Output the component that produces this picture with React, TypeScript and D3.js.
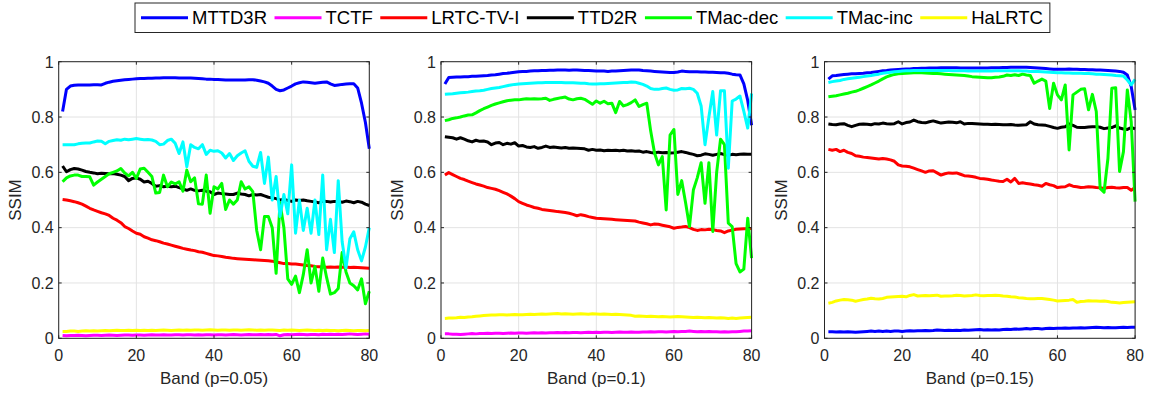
import React from 'react';
import * as d3 from 'd3';

// ---------- data ----------
const methodNames = ['MTTD3R', 'TCTF', 'LRTC-TV-I', 'TTD2R', 'TMac-dec', 'TMac-inc', 'HaLRTC'];
const methodColors = ['#0000ff', '#ff00ff', '#ff0000', '#000000', '#00ff00', '#00ffff', '#ffff00'];
const panelLabels = ['Band (p=0.05)', 'Band (p=0.1)', 'Band (p=0.15)'];
const xTicks = [0, 20, 40, 60, 80];
const yTicks = [0, 0.2, 0.4, 0.6, 0.8, 1];
const bands = d3.range(1, 81);

// p = 0.05
const MTTD3R_p05 = [.82,.90,.912,.915,.916,.916,.916,.916,.917,.917,
.916,.922,.926,.929,.931,.933,.935,.936,.937,.938,
.939,.939,.94,.94,.941,.941,.942,.942,.942,.942,
.941,.941,.941,.941,.94,.939,.938,.937,.937,.936,
.936,.935,.934,.934,.934,.934,.934,.934,.935,.935,
.933,.93,.927,.922,.912,.90,.895,.898,.905,.912,
.92,.924,.927,.926,.924,.922,.924,.926,.927,.92,
.914,.916,.918,.919,.92,.92,.905,.85,.78,.685];
const TCTF_p05 = [.010,.009,.010,.010,.011,.010,.009,.010,.011,.011,
.010,.011,.012,.011,.010,.011,.012,.012,.011,.012,
.012,.011,.012,.013,.012,.012,.013,.012,.012,.013,
.013,.012,.013,.013,.012,.013,.012,.013,.013,.012,
.013,.013,.012,.013,.014,.013,.012,.013,.014,.013,
.013,.014,.013,.014,.013,.014,.009,.013,.014,.013,
.014,.015,.014,.013,.014,.014,.013,.015,.014,.015,
.014,.015,.014,.015,.016,.015,.014,.015,.016,.015];
const LRTC_p05 = [.502,.50,.497,.494,.49,.485,.478,.47,.464,.459,
.454,.45,.444,.434,.427,.418,.404,.397,.388,.38,
.376,.367,.362,.356,.353,.349,.344,.341,.337,.333,
.329,.325,.322,.319,.317,.313,.311,.307,.303,.299,
.298,.296,.293,.291,.289,.288,.287,.286,.285,.284,
.283,.282,.281,.28,.279,.276,.273,.27,.27,.269,
.269,.267,.265,.263,.262,.26,.259,.258,.257,.258,
.257,.258,.257,.258,.256,.257,.256,.255,.254,.253];
const TTD2R_p05 = [.623,.602,.61,.614,.612,.608,.603,.60,.598,.595,
.597,.596,.595,.596,.593,.59,.585,.57,.578,.58,
.575,.565,.568,.56,.55,.552,.548,.55,.548,.55,
.545,.54,.535,.54,.535,.533,.535,.532,.53,.52,
.525,.523,.522,.52,.52,.525,.522,.52,.515,.52,
.518,.52,.515,.51,.508,.505,.50,.502,.498,.495,
.50,.498,.50,.497,.495,.493,.49,.496,.495,.493,
.495,.495,.492,.496,.494,.49,.495,.492,.485,.48];
const TMacDec_p05 = [.566,.58,.587,.59,.59,.585,.585,.584,.554,.565,
.575,.585,.595,.60,.605,.614,.598,.587,.60,.578,
.612,.615,.60,.585,.525,.527,.59,.548,.565,.558,
.566,.532,.608,.566,.58,.486,.485,.59,.452,.548,
.54,.56,.466,.50,.485,.50,.566,.54,.548,.53,
.39,.32,.44,.44,.40,.235,.49,.40,.215,.195,
.225,.165,.23,.32,.20,.26,.17,.29,.22,.16,
.165,.18,.31,.24,.20,.19,.175,.215,.125,.17];
const TMacInc_p05 = [.70,.70,.70,.70,.703,.705,.706,.706,.71,.713,
.712,.703,.712,.715,.718,.716,.72,.718,.72,.722,
.72,.718,.719,.717,.712,.70,.702,.715,.72,.705,
.668,.71,.62,.70,.69,.685,.70,.665,.68,.676,
.678,.67,.652,.668,.643,.66,.67,.678,.64,.622,
.618,.672,.56,.655,.50,.585,.44,.52,.45,.627,
.38,.50,.39,.47,.38,.50,.375,.59,.32,.43,
.31,.57,.35,.255,.36,.385,.32,.28,.33,.40];
const HaLRTC_p05 = [.025,.025,.026,.026,.025,.026,.027,.026,.027,.026,
.027,.028,.027,.028,.029,.028,.028,.029,.028,.029,
.028,.029,.028,.029,.028,.029,.03,.029,.028,.029,
.03,.029,.03,.029,.03,.03,.029,.03,.031,.03,
.029,.03,.03,.029,.03,.03,.029,.03,.031,.03,
.029,.03,.029,.03,.03,.029,.028,.03,.029,.03,
.029,.028,.029,.03,.029,.028,.029,.028,.029,.028,
.028,.027,.028,.029,.028,.027,.028,.028,.027,.028];

// p = 0.1
const MTTD3R_p10 = [.919,.943,.944,.945,.945,.946,.946,.947,.947,.948,
.949,.95,.952,.953,.955,.957,.958,.96,.962,.964,
.965,.965,.966,.967,.967,.968,.968,.969,.969,.97,
.97,.97,.969,.97,.97,.969,.968,.968,.967,.966,
.966,.966,.965,.966,.966,.967,.968,.969,.97,.97,
.97,.968,.967,.966,.965,.964,.963,.962,.961,.961,
.963,.966,.965,.964,.964,.964,.963,.963,.962,.962,
.961,.96,.96,.958,.955,.953,.952,.92,.86,.77];
const TCTF_p10 = [.016,.016,.015,.015,.014,.015,.016,.017,.016,.017,
.017,.018,.017,.018,.018,.017,.018,.019,.018,.019,
.019,.018,.019,.02,.019,.02,.019,.02,.02,.021,
.02,.021,.02,.021,.021,.02,.021,.022,.021,.022,
.021,.022,.022,.021,.022,.023,.022,.022,.023,.022,
.022,.023,.023,.024,.023,.024,.024,.023,.024,.025,
.024,.025,.025,.026,.025,.024,.025,.024,.025,.024,
.024,.023,.024,.023,.024,.024,.025,.026,.026,.027];
const LRTC_p10 = [.59,.599,.592,.585,.578,.574,.568,.563,.558,.554,
.55,.545,.542,.539,.534,.528,.522,.514,.505,.494,
.488,.482,.478,.473,.47,.466,.464,.462,.46,.458,
.457,.455,.452,.448,.443,.447,.444,.44,.437,.434,
.433,.432,.431,.43,.429,.428,.427,.426,.425,.424,
.42,.417,.414,.41,.413,.412,.409,.406,.403,.398,
.401,.402,.404,.4,.394,.39,.393,.392,.394,.393,
.39,.388,.382,.388,.391,.394,.395,.396,.396,.397];
const TTD2R_p10 = [.729,.727,.725,.72,.725,.72,.714,.71,.716,.712,
.713,.71,.70,.706,.708,.70,.705,.702,.707,.695,
.697,.692,.69,.693,.687,.69,.695,.69,.692,.69,
.688,.69,.687,.688,.687,.686,.685,.68,.683,.68,
.681,.678,.68,.679,.68,.678,.68,.677,.678,.676,
.677,.673,.675,.672,.67,.673,.671,.672,.67,.671,
.673,.675,.672,.668,.665,.66,.662,.667,.665,.662,
.665,.668,.664,.662,.665,.664,.665,.666,.665,.665];
const TMacDec_p10 = [.787,.79,.795,.797,.80,.804,.807,.808,.815,.823,
.83,.836,.842,.847,.851,.855,.859,.861,.862,.862,
.864,.866,.865,.866,.865,.866,.868,.86,.864,.867,
.87,.872,.865,.862,.866,.868,.864,.855,.846,.858,
.85,.857,.848,.85,.816,.856,.84,.845,.852,.862,
.838,.845,.85,.75,.67,.627,.657,.464,.735,.755,
.52,.57,.49,.404,.536,.58,.635,.488,.635,.386,
.60,.72,.70,.416,.404,.27,.24,.25,.434,.29];
const TMacInc_p10 = [.882,.883,.884,.886,.888,.889,.89,.892,.894,.895,
.897,.90,.903,.905,.907,.91,.913,.916,.918,.919,
.92,.921,.922,.923,.924,.924,.925,.925,.925,.925,
.925,.924,.924,.924,.923,.922,.922,.92,.919,.919,
.92,.92,.921,.922,.923,.924,.925,.925,.927,.926,
.922,.918,.912,.903,.90,.90,.903,.905,.90,.897,
.898,.903,.902,.904,.90,.886,.84,.70,.80,.892,
.735,.895,.895,.615,.858,.865,.876,.82,.76,.885];
const HaLRTC_p10 = [.072,.073,.073,.074,.076,.075,.077,.078,.08,.081,
.082,.083,.084,.084,.085,.085,.084,.085,.086,.085,
.085,.086,.087,.086,.087,.088,.087,.088,.089,.09,
.088,.089,.088,.087,.088,.089,.088,.087,.089,.088,
.087,.088,.087,.086,.087,.086,.085,.084,.083,.08,
.081,.08,.079,.08,.079,.078,.079,.078,.077,.078,
.079,.078,.077,.076,.075,.076,.075,.074,.075,.074,
.073,.074,.073,.072,.073,.072,.073,.074,.075,.076];

// p = 0.15
const MTTD3R_p15 = [.937,.949,.95,.952,.954,.955,.956,.956,.957,.958,
.96,.961,.963,.965,.967,.968,.97,.971,.972,.973,
.974,.974,.975,.975,.976,.976,.977,.977,.977,.978,
.978,.978,.978,.978,.977,.977,.977,.977,.977,.977,
.977,.977,.978,.978,.978,.979,.979,.98,.98,.98,
.98,.98,.979,.978,.977,.976,.975,.974,.973,.973,
.973,.973,.974,.973,.973,.972,.972,.971,.971,.97,
.97,.969,.968,.967,.966,.965,.962,.952,.91,.825];
const TCTF_p15 = [.024,.024,.023,.024,.023,.024,.023,.022,.023,.024,
.025,.026,.025,.026,.025,.026,.025,.026,.026,.025,
.026,.027,.026,.027,.027,.028,.027,.028,.03,.029,
.028,.029,.028,.029,.028,.03,.029,.03,.031,.032,
.03,.031,.03,.031,.03,.032,.033,.032,.034,.033,
.034,.035,.034,.035,.035,.034,.035,.036,.035,.036,
.036,.037,.036,.037,.037,.038,.037,.038,.039,.04,
.039,.038,.039,.038,.038,.039,.04,.039,.04,.04];
const LRTC_p15 = [.683,.68,.683,.675,.68,.672,.668,.66,.658,.655,
.654,.652,.65,.648,.65,.648,.645,.64,.627,.623,
.622,.62,.615,.61,.605,.60,.605,.606,.598,.59,
.595,.598,.597,.598,.593,.588,.587,.585,.582,.578,
.577,.575,.572,.57,.568,.567,.575,.565,.578,.56,
.562,.56,.558,.555,.553,.55,.56,.555,.552,.545,
.547,.548,.555,.55,.548,.545,.546,.548,.547,.545,
.544,.542,.545,.546,.544,.543,.545,.545,.535,.545];
const TTD2R_p15 = [.775,.773,.772,.775,.776,.77,.765,.77,.774,.775,
.774,.772,.776,.775,.778,.776,.775,.776,.783,.775,
.78,.782,.789,.783,.78,.779,.783,.786,.782,.778,
.78,.782,.781,.779,.783,.775,.777,.777,.776,.775,
.774,.774,.773,.774,.773,.772,.772,.773,.771,.77,
.771,.772,.783,.775,.772,.771,.77,.766,.762,.759,
.763,.765,.775,.77,.763,.762,.762,.764,.765,.765,
.763,.758,.76,.762,.768,.76,.757,.755,.762,.757];
const TMacDec_p15 = [.873,.875,.877,.88,.883,.886,.89,.893,.898,.904,
.91,.916,.923,.93,.938,.945,.95,.954,.956,.957,
.958,.959,.96,.96,.96,.959,.958,.957,.957,.956,
.955,.954,.953,.952,.951,.95,.948,.946,.945,.944,
.943,.942,.942,.944,.945,.947,.952,.95,.953,.95,
.955,.952,.95,.922,.93,.937,.93,.831,.922,.88,
.862,.916,.681,.88,.89,.90,.902,.826,.882,.82,
.542,.528,.65,.904,.906,.603,.675,.898,.783,.494];
const TMacInc_p15 = [.925,.928,.93,.932,.936,.938,.94,.942,.944,.946,
.948,.95,.953,.955,.958,.96,.962,.964,.965,.966,
.967,.967,.968,.968,.968,.968,.968,.968,.968,.968,
.968,.968,.967,.967,.967,.967,.966,.966,.966,.966,
.966,.966,.966,.967,.967,.967,.967,.967,.967,.967,
.966,.966,.965,.965,.965,.964,.963,.962,.961,.96,
.96,.959,.959,.958,.958,.958,.957,.957,.956,.955,
.955,.954,.953,.952,.95,.949,.948,.934,.916,.936];
const HaLRTC_p15 = [.127,.13,.135,.138,.14,.139,.138,.134,.137,.14,
.142,.145,.143,.142,.144,.148,.149,.15,.151,.152,
.15,.155,.158,.153,.154,.155,.154,.155,.156,.152,
.153,.153,.154,.156,.155,.153,.154,.155,.157,.155,
.154,.155,.155,.156,.155,.153,.152,.15,.149,.147,
.146,.144,.143,.143,.144,.144,.142,.14,.138,.135,
.136,.137,.138,.14,.13,.133,.134,.136,.135,.135,
.134,.135,.133,.13,.129,.128,.129,.13,.131,.132];

const panelSeries = [
  [MTTD3R_p05, TCTF_p05, LRTC_p05, TTD2R_p05, TMacDec_p05, TMacInc_p05, HaLRTC_p05],
  [MTTD3R_p10, TCTF_p10, LRTC_p10, TTD2R_p10, TMacDec_p10, TMacInc_p10, HaLRTC_p10],
  [MTTD3R_p15, TCTF_p15, LRTC_p15, TTD2R_p15, TMacDec_p15, TMacInc_p15, HaLRTC_p15],
];
// in the third panel the TCTF curve is drawn in blue in the original figure
const panelColorOverride: Record<number, Record<number, string>> = { 2: { 1: '#0000ff' } };

// ---------- layout ----------
const W = 1149, H = 396;
const FONT = '"Liberation Sans", Arial, Helvetica, sans-serif';
const TXT = '#262626';
const axesLeft = [58.7, 441, 824.5];
const axesWidth = 310.6;
const top = 61.7, bottom = 338.3;

const legendLeft = 135, legendTop = 3, legendBottom = 32.5;
const legendFont = 18.5;

function legendLayout() {
  const canvas = document.createElement('canvas');
  const ctx = canvas.getContext('2d')!;
  ctx.font = `${legendFont}px ${FONT}`;
  let x = legendLeft + 6;
  const items = methodNames.map((n, i) => {
    const w = ctx.measureText(n).width;
    const it = { name: n, color: methodColors[i], x0: x, x1: x + 47, tx: x + 51 };
    x = x + 51 + w + 7.5;
    return it;
  });
  return { items, right: x - 0.5 };
}

function Panel({ idx }: { idx: number }) {
  const left = axesLeft[idx];
  const xs = d3.scaleLinear().domain([0, 80]).range([left, left + axesWidth]);
  const ys = d3.scaleLinear().domain([0, 1]).range([bottom, top]);
  const line = d3.line<number>().x((_, i) => xs(bands[i])).y((v) => ys(v));
  const series = panelSeries[idx];
  return (
    <g>
      <rect x={left} y={top} width={axesWidth} height={bottom - top} fill="#fff" />
      {xTicks.map((t) => (
        <line key={'gx' + t} x1={xs(t)} x2={xs(t)} y1={top} y2={bottom} stroke="#e3e3e3" strokeWidth={1} />
      ))}
      {yTicks.map((t) => (
        <line key={'gy' + t} x1={left} x2={left + axesWidth} y1={ys(t)} y2={ys(t)} stroke="#e3e3e3" strokeWidth={1} />
      ))}
      {series.map((s, i) => (
        <path
          key={i}
          d={line(s) || ''}
          fill="none"
          stroke={(panelColorOverride[idx] && panelColorOverride[idx][i]) || methodColors[i]}
          strokeWidth={3}
          strokeLinejoin="round"
          strokeLinecap="butt"
        />
      ))}
      <rect x={left} y={top} width={axesWidth} height={bottom - top} fill="none" stroke={TXT} strokeWidth={1} />
      {xTicks.map((t) => (
        <g key={'tx' + t}>
          <line x1={xs(t)} x2={xs(t)} y1={bottom} y2={bottom - 3} stroke={TXT} />
          <line x1={xs(t)} x2={xs(t)} y1={top} y2={top + 3} stroke={TXT} />
          <text x={xs(t)} y={361} textAnchor="middle" fontSize={16} fill={TXT} fontFamily={FONT}>{t}</text>
        </g>
      ))}
      {yTicks.map((t) => (
        <g key={'ty' + t}>
          <line x1={left} x2={left + 3} y1={ys(t)} y2={ys(t)} stroke={TXT} />
          <line x1={left + axesWidth} x2={left + axesWidth - 3} y1={ys(t)} y2={ys(t)} stroke={TXT} />
          <text x={left - 5} y={ys(t) + 5.8} textAnchor="end" fontSize={16} fill={TXT} fontFamily={FONT}>{String(t)}</text>
        </g>
      ))}
      <text x={left + axesWidth / 2} y={384} textAnchor="middle" fontSize={17} fill={TXT} fontFamily={FONT}>
        {panelLabels[idx]}
      </text>
      <text
        transform={`translate(${left - 38},${(top + bottom) / 2}) rotate(-90)`}
        textAnchor="middle"
        fontSize={17}
        fill={TXT}
        fontFamily={FONT}
      >
        SSIM
      </text>
    </g>
  );
}

export default function App() {
  const lg = legendLayout();
  const cy = (legendTop + legendBottom) / 2;
  return (
    <svg width={W} height={H} style={{ position: 'absolute', left: 0, top: 0, background: '#fff' }}>
      <rect x={0} y={0} width={W} height={H} fill="#fff" />
      {[0, 1, 2].map((i) => (
        <Panel key={i} idx={i} />
      ))}
      <rect x={legendLeft} y={legendTop} width={lg.right - legendLeft} height={legendBottom - legendTop} fill="#fff" stroke={TXT} strokeWidth={1} />
      {lg.items.map((it) => (
        <g key={it.name}>
          <line x1={it.x0} x2={it.x1} y1={cy} y2={cy} stroke={it.color} strokeWidth={3} />
          <text x={it.tx} y={cy + 6.6} fontSize={legendFont} fill="#000" fontFamily={FONT}>{it.name}</text>
        </g>
      ))}
    </svg>
  );
}
